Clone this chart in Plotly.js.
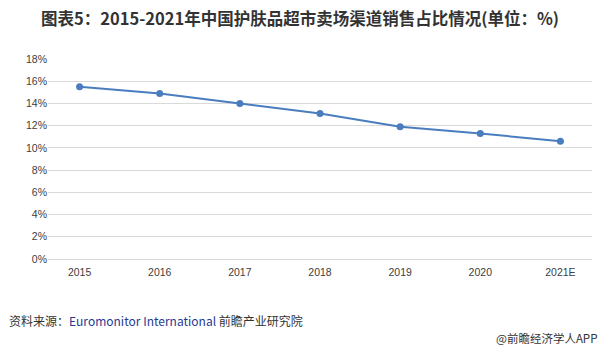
<!DOCTYPE html>
<html><head><meta charset="utf-8">
<script src="https://cdn.plot.ly/plotly-3.0.1.min.js"></script>
<style>html,body{margin:0;padding:0;background:#fff;}#chart{width:600px;height:351px;}</style>
</head><body><div id="chart"></div>
<script>
const years = ["2015","2016","2017","2018","2019","2020","2021E"];
const shares = [15.5, 14.9, 14.0, 13.1, 11.9, 11.3, 10.6];
const yTicks = [0,2,4,6,8,10,12,14,16,18];
const yTickText = yTicks.map(v => v + "%");

const trace = {
  x: years, y: shares, type: "scatter", mode: "lines+markers",
  line: {color: "#4a7dbf", width: 2},
  marker: {color: "#4a7dbf", size: 7},
  hoverinfo: "skip"
};
const layout = {
  width: 600, height: 351,
  margin: {l: 48, r: 8, t: 59, b: 92},
  paper_bgcolor: "#fff", plot_bgcolor: "#fff",
  showlegend: false,
  title: {text: "<b>图表5：2015-2021年中国护肤品超市卖场渠道销售占比情况(单位：%)</b>",
    x: 0.5, xanchor: "center", y: 0.945, yanchor: "middle",
    font: {family: "Noto Sans CJK SC, sans-serif", size: 16.5, color: "#333"}},
  xaxis: {type: "category", showgrid: false, zeroline: false, showline: false,
    ticks: "", ticklabelstandoff: 5,
    tickfont: {family: "Liberation Sans, Arial, sans-serif", size: 10.5, color: "#404040"}},
  yaxis: {range: [0, 18], tickvals: yTicks, ticktext: yTickText, showgrid: true,
    gridcolor: "#d9d9d9", gridwidth: 1, zeroline: true, zerolinecolor: "#d9d9d9", zerolinewidth: 1,
    showline: false, ticks: "", ticklen: 0,
    tickfont: {family: "Liberation Sans, Arial, sans-serif", size: 10.5, color: "#404040"}},
  annotations: [
    {text: "资料来源：<span style='color:#1f3a93'>Euromonitor International</span> 前瞻产业研究院", xref: "paper", yref: "paper",
      x: -0.075, xanchor: "left", y: -0.305, yanchor: "middle", showarrow: false,
      font: {family: "Noto Sans CJK SC, sans-serif", size: 12, color: "#333"}},
    {text: "@前瞻经济学人APP", xref: "paper", yref: "paper",
      x: 1.013, xanchor: "right", y: -0.395, yanchor: "middle", showarrow: false,
      font: {family: "Noto Sans CJK SC, sans-serif", size: 11.5, color: "#333"}}
  ]
};
Plotly.newPlot("chart", [trace], layout, {displayModeBar: false, staticPlot: true});
</script></body></html>
